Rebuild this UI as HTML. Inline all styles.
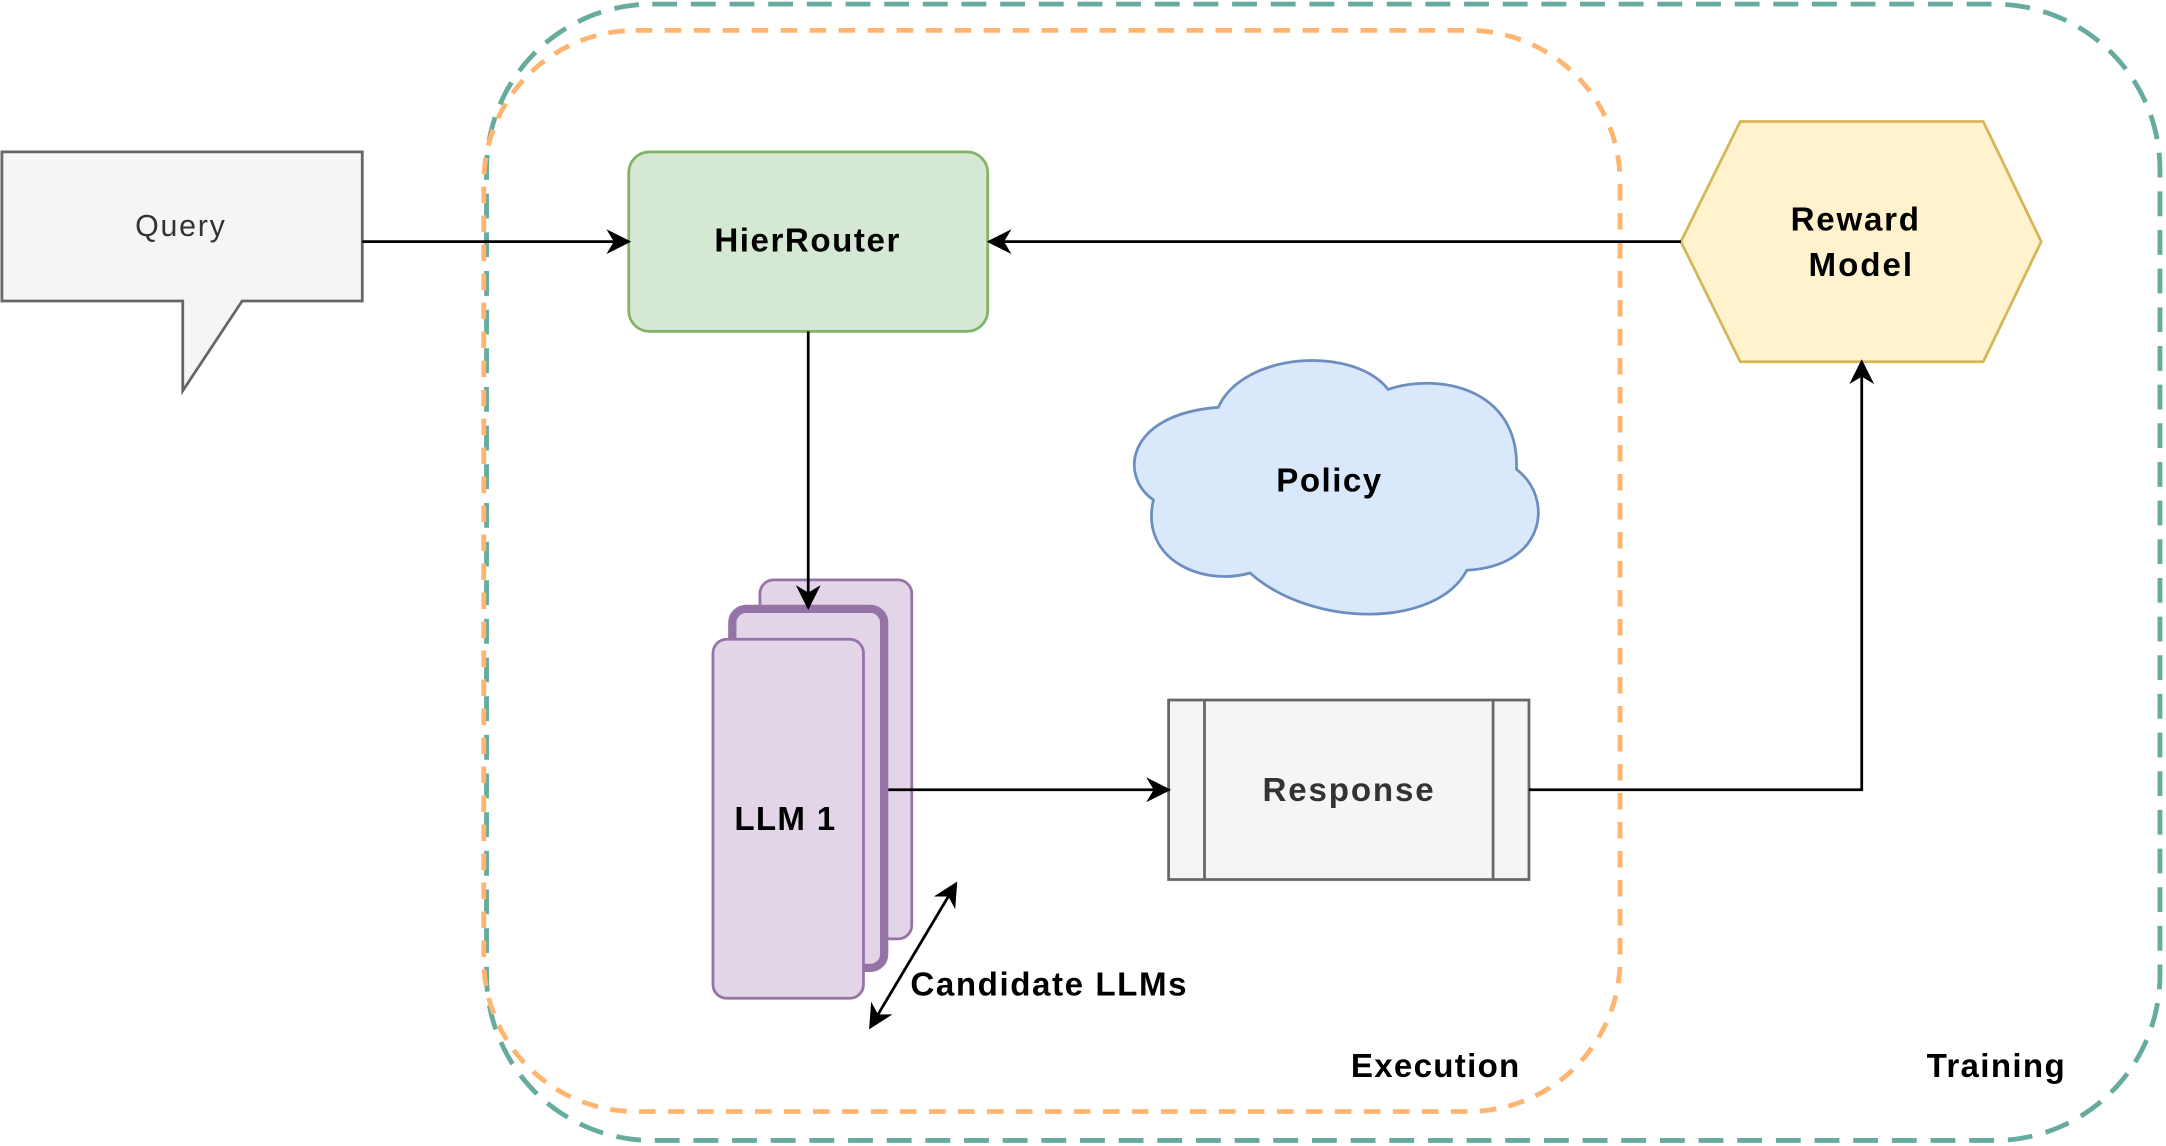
<!DOCTYPE html>
<html><head><meta charset="utf-8"><style>html,body{margin:0;padding:0;background:#fff}svg{display:block}</style></head>
<body>
<svg width="2166" height="1146" viewBox="0 0 1568 830" xmlns="http://www.w3.org/2000/svg" font-family="Liberation Sans, sans-serif">
<defs>
<marker id="b" viewBox="0 0 10 10" refX="9" refY="5" markerWidth="18" markerHeight="18" orient="auto-start-reverse" markerUnits="userSpaceOnUse"><path d="M0,0 L10,5 L0,10 L3,5 Z" fill="#000"/></marker>
</defs>
<rect x="352" y="3" width="1212" height="823" rx="120" fill="none" stroke="#67ab9f" stroke-width="3.5" stroke-dasharray="18 10"/>
<rect x="350" y="22" width="823" height="783" rx="110" fill="#fff" fill-opacity="0" stroke="#ffb570" stroke-width="3.5" stroke-dasharray="12 9"/>
<path d="M1,110 H262 V218 H175 L132,283 V218 H1 Z" fill="#f5f5f5" stroke="#666" stroke-width="2"/>
<text x="130" y="171" font-size="22" text-anchor="middle" fill="#333" textLength="65">Query</text>
<rect x="455" y="110" width="260" height="130" rx="15" fill="#d5e8d4" stroke="#82b366" stroke-width="2"/>
<text x="584" y="182" font-size="24" font-weight="bold" text-anchor="middle" textLength="134">HierRouter</text>
<polygon points="1217,175 1260,88 1436,88 1478,175 1436,262 1260,262" fill="#fff2cc" stroke="#d6b656" stroke-width="2"/>
<text x="1343" y="167" font-size="24" font-weight="bold" text-anchor="middle" textLength="93">Reward</text>
<text x="1347" y="200" font-size="24" font-weight="bold" text-anchor="middle" textLength="75">Model</text>
<path d="M882,295 C900,255 980,250 1005,282 C1040,270 1100,280 1098,340 C1125,360 1120,410 1062,413 C1040,455 950,455 905,415 C870,425 825,405 835,362 C810,345 815,300 882,295 Z" fill="#dae8fc" stroke="#6c8ebf" stroke-width="2"/>
<text x="962" y="356" font-size="24" font-weight="bold" text-anchor="middle" textLength="76">Policy</text>
<rect x="550" y="420" width="110" height="260" rx="10" fill="#e1d5e7" stroke="#9673a6" stroke-width="2"/>
<rect x="530" y="441" width="110" height="260" rx="10" fill="#e1d5e7" stroke="#9673a6" stroke-width="6"/>
<rect x="516" y="463" width="109" height="260" rx="10" fill="#e1d5e7" stroke="#9673a6" stroke-width="2"/>
<text x="568" y="601" font-size="24" font-weight="bold" text-anchor="middle" textLength="73">LLM 1</text>
<rect x="846" y="507" width="261" height="130" fill="#f5f5f5" stroke="#666" stroke-width="2"/>
<line x1="872" y1="507" x2="872" y2="637" stroke="#666" stroke-width="2"/>
<line x1="1081" y1="507" x2="1081" y2="637" stroke="#666" stroke-width="2"/>
<text x="976" y="580" font-size="24" font-weight="bold" text-anchor="middle" fill="#333" textLength="124">Response</text>
<g stroke="#000" stroke-width="2" fill="none">
<path d="M262,175 L455,175" marker-end="url(#b)"/>
<path d="M1217,175 L716,175" marker-end="url(#b)"/>
<path d="M585,240 L585,440" marker-end="url(#b)"/>
<path d="M643,572 L846,572" marker-end="url(#b)"/>
<path d="M1107,572 H1348 V262" marker-end="url(#b)"/>
<path d="M630,744 L692,640" marker-start="url(#b)" marker-end="url(#b)"/>
</g>
<text x="659" y="721" font-size="24" font-weight="bold" textLength="200">Candidate LLMs</text>
<text x="978" y="780" font-size="24" font-weight="bold" textLength="122">Execution</text>
<text x="1395" y="780" font-size="24" font-weight="bold" textLength="100">Training</text>
</svg>
</body></html>
